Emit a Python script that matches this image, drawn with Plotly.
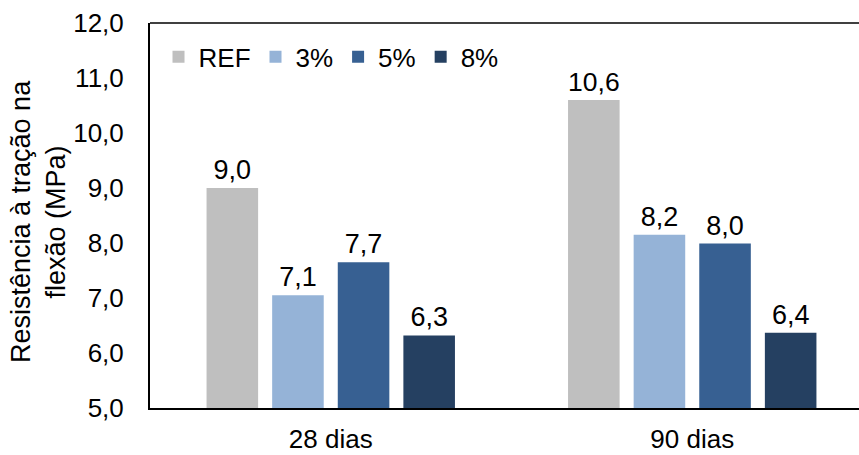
import plotly.graph_objects as go

categories = ["28 dias", "90 dias"]
series_names = ["REF", "3%", "5%", "8%"]
ref_vals = [9.0, 10.6]
p3_vals = [7.05, 8.15]
p5_vals = [7.65, 7.99]
p8_vals = [6.32, 6.37]
ref_text = ["9,0", "10,6"]
p3_text = ["7,1", "8,2"]
p5_text = ["7,7", "8,0"]
p8_text = ["6,3", "6,4"]
y_ticks = [5, 6, 7, 8, 9, 10, 11, 12]
y_ticklabels = ["5,0", "6,0", "7,0", "8,0", "9,0", "10,0", "11,0", "12,0"]

colors = ["#BFBFBF", "#95B3D7", "#376092", "#254061"]
FONT = "Arial, Liberation Sans, sans-serif"

fig = go.Figure()
for name, vals, txt, col in zip(series_names,
                                [ref_vals, p3_vals, p5_vals, p8_vals],
                                [ref_text, p3_text, p5_text, p8_text],
                                colors):
    fig.add_trace(go.Bar(
        x=categories, y=vals, name=name, text=txt,
        textposition="outside", cliponaxis=False,
        textfont=dict(family=FONT, size=27, color="#000000"),
        marker=dict(color=col, line=dict(width=0)),
    ))

W, H = 859, 455
L, T, B = 150, 23, 47
fig.update_layout(
    width=W, height=H,
    margin=dict(l=L, r=0, t=T, b=B, pad=0),
    paper_bgcolor="white", plot_bgcolor="white",
    barmode="group", bargap=0.274, bargroupgap=0.214,
    font=dict(family=FONT, size=26, color="#000000"),
    showlegend=True,
    legend=dict(orientation="h", x=0.012, y=0.912, xanchor="left", yanchor="middle",
                font=dict(family=FONT, size=26), bgcolor="rgba(0,0,0,0)",
                itemwidth=30, tracegroupgap=0),
    xaxis=dict(range=[-0.5, 1.4613], showgrid=False, showline=True,
               linecolor="#000000", linewidth=2, ticks="", tickfont=dict(size=26),
               ticklabelstandoff=7),
    yaxis=dict(range=[5, 12], tickvals=y_ticks, ticktext=y_ticklabels,
               showgrid=False, showline=True, linecolor="#000000", linewidth=2,
               ticks="", tickfont=dict(size=26), ticklabelstandoff=19, zeroline=False),
    annotations=[dict(
        text="Resistência à tração na<br>flexão (MPa)", textangle=-90,
        xref="paper", yref="paper", x=(38 - L) / (W - L), y=(408 - 222) / 385,
        xanchor="center", yanchor="middle", showarrow=False,
        font=dict(family=FONT, size=27, color="#000000"))],
    shapes=[dict(type="line", xref="paper", yref="paper", x0=0, x1=1, y0=1, y1=1,
                 line=dict(color="#404040", width=2))],
)

fig.write_html("out.html")
